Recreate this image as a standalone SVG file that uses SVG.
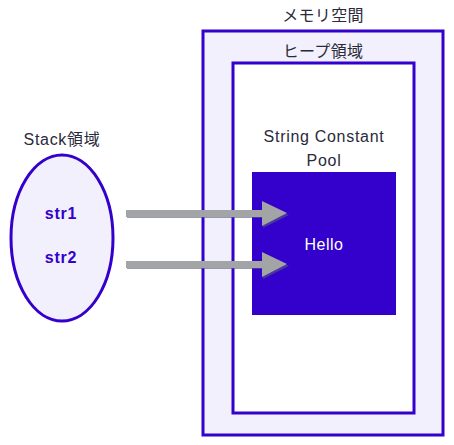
<svg xmlns="http://www.w3.org/2000/svg" width="454" height="445" viewBox="0 0 454 445">
<style>
text{font-family:"Liberation Sans","Noto Sans CJK JP",sans-serif;}
.lbl{font-size:16px;fill:#2a2a3a;text-anchor:middle;letter-spacing:0.7px;}
.var{font-size:16px;font-weight:bold;fill:#3300CC;text-anchor:middle;letter-spacing:0.8px;}
.frame{stroke:#3300CC;stroke-width:3;}
.arrow{fill:#A2A4A6;}
.shadow{fill:#5a5a80;opacity:0.6;}
</style>
<rect width="454" height="445" fill="#ffffff"/>
<g id="memory">
<rect class="frame" x="203" y="31" width="240" height="404" fill="#F2F0FC"/>
<text class="lbl" x="323" y="21" style="letter-spacing:0.3px">メモリ空間</text>
</g>
<g id="heap">
<rect class="frame" x="233" y="63" width="181" height="350" fill="#ffffff"/>
<text class="lbl" x="323" y="57" style="letter-spacing:0.3px">ヒープ領域</text>
<text class="lbl" x="324" y="142">String Constant</text>
<text class="lbl" x="324" y="166">Pool</text>
</g>
<g id="hello">
<rect x="252" y="172" width="144" height="143" fill="#3300CC"/>
<text x="324" y="250" font-size="16" fill="#ffffff" text-anchor="middle" letter-spacing="0.5">Hello</text>
</g>
<g id="stack">
<text class="lbl" x="62" y="145">Stack領域</text>
<ellipse cx="62" cy="238" rx="51" ry="83" fill="#F2F0FC" class="frame"/>
<text class="var" x="61" y="219">str1</text>
<text class="var" x="61" y="263">str2</text>
</g>
<g id="connectors">
<polygon class="shadow" points="127,213 263,213 263,203 289,215 263,228 263,218 127,218"/>
<polygon class="arrow" points="126,210 262,210 262,201 287,213 262,226 262,217 126,217"/>
<polygon class="shadow" points="127,264 263,264 263,254 289,266 263,279 263,269 127,269"/>
<polygon class="arrow" points="126,261 262,261 262,252 287,264 262,277 262,268 126,268"/>
</g>
</svg>
